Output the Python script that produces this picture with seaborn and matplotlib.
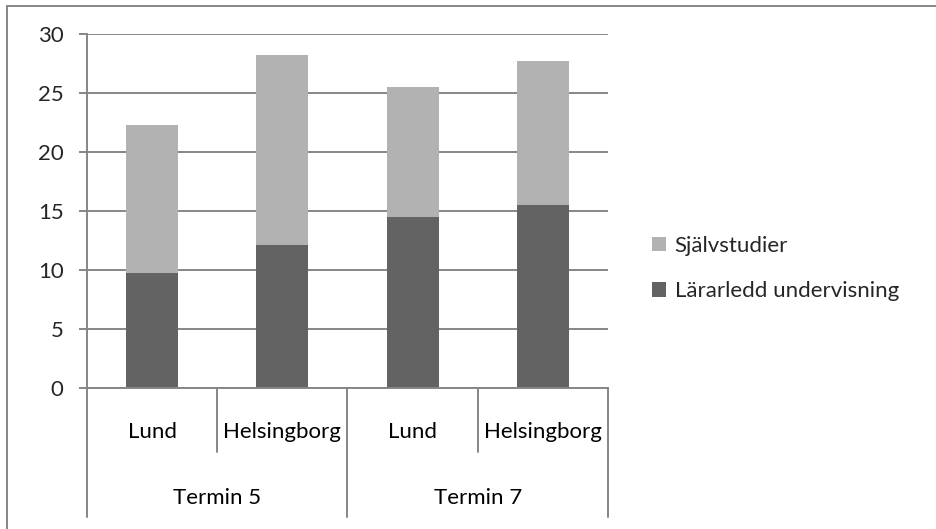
import seaborn as sns
import matplotlib.pyplot as plt
import matplotlib.lines as mlines
import matplotlib.transforms as mtransforms
import pandas as pd

# values (hours)
terms = ['Termin 5', 'Termin 5', 'Termin 7', 'Termin 7']
sites = ['Lund', 'Helsingborg', 'Lund', 'Helsingborg']
lararledd = [9.7, 12.1, 14.5, 15.5]
sjalvstudier = [12.6, 16.1, 11.0, 12.2]
yticks = [0, 5, 10, 15, 20, 25, 30]

df = pd.DataFrame({'key': [t + ' ' + s for t, s in zip(terms, sites)],
                   'site': sites, 'term': terms,
                   'lararledd': lararledd, 'sjalvstudier': sjalvstudier})
df['total'] = df['lararledd'] + df['sjalvstudier']

sns.set_style('white')
plt.rcParams['font.family'] = ['Lato', 'DejaVu Sans']

grid_c = '#868686'
light = '#b2b2b2'
dark = '#636363'
fs = 16

fig = plt.figure(figsize=(9.37, 5.29), dpi=100)
ax = fig.add_axes([87 / 937, 141.3 / 529, 521 / 937, 353.7 / 529])

sns.barplot(data=df, x='key', y='total', color=light, width=0.4,
            saturation=1, linewidth=0, ax=ax, label='Självstudier')
sns.barplot(data=df, x='key', y='lararledd', color=dark, width=0.4,
            saturation=1, linewidth=0, ax=ax, label='Lärarledd undervisning')

ax.set_ylim(0, 30)
ax.set_xlim(-0.5, 3.5)
ax.set_yticks(yticks)
ax.set_yticklabels([str(v) for v in yticks], fontsize=fs)
ax.yaxis.grid(True, color=grid_c, linewidth=1.4)
ax.set_axisbelow(True)
ax.tick_params(axis='y', length=5.8, width=1.4, color=grid_c, pad=11, left=True)
ax.set_xticks([])
ax.set_xlabel('')
ax.set_ylabel('')
for side in ['top', 'right']:
    ax.spines[side].set_visible(False)
for side in ['left', 'bottom']:
    ax.spines[side].set_color(grid_c)
    ax.spines[side].set_linewidth(1.4)

# two-level category axis
trans = mtransforms.blended_transform_factory(ax.transData, ax.transAxes)
for xb in [-0.5, 0.5, 1.5, 2.5, 3.5]:
    low = -0.3656 if xb in (-0.5, 1.5, 3.5) else -0.1819
    ax.plot([xb, xb], [0, low], transform=trans, color=grid_c,
            linewidth=1.4, clip_on=False)
for i, s in enumerate(df['site']):
    ax.text(i, -0.1252, s, transform=trans, ha='center', va='center',
            fontsize=fs, color='black')
for xc, t in zip([0.5, 2.5], ['Termin 5', 'Termin 7']):
    ax.text(xc, -0.3118, t, transform=trans, ha='center', va='center',
            fontsize=fs, color='black')

handles, labels = ax.get_legend_handles_labels()
fig.legend(handles, labels, loc='center left',
           bbox_to_anchor=(652 / 937, 260.5 / 529), frameon=False,
           fontsize=fs, handlelength=0.64, handleheight=0.64,
           handletextpad=0.38, labelspacing=1.14, borderpad=0,
           borderaxespad=0)
if ax.get_legend() is not None:
    ax.get_legend().remove()

# chart area border (left and top only are visible)
fig.add_artist(mlines.Line2D([7 / 937, 7 / 937], [0, 1 - 5.5 / 529],
                             color=grid_c, linewidth=1.4))
fig.add_artist(mlines.Line2D([7 / 937, 1], [1 - 5.5 / 529, 1 - 5.5 / 529],
                             color=grid_c, linewidth=1.4))

fig.savefig('out.png', dpi=100)
